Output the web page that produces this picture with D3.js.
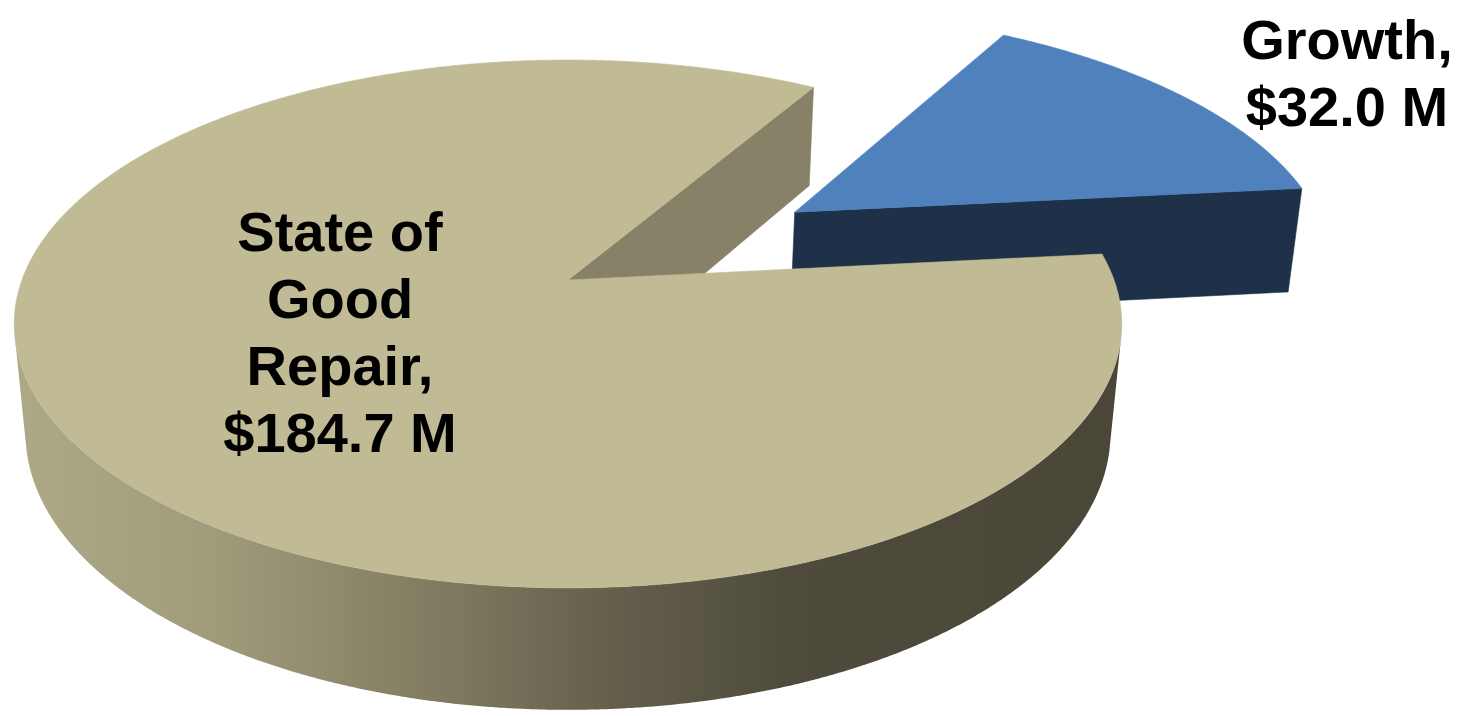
<!DOCTYPE html>
<html><head><meta charset="utf-8">
<script src="https://cdn.jsdelivr.net/npm/d3@7"></script>
<style>html,body{margin:0;padding:0;background:#fff;overflow:hidden}</style>
</head><body>
<svg id="chart" width="1473" height="716"></svg>
<script>
// ---- data ----
const categories = ["Growth", "State of Good Repair"];
const values = [32.0, 184.7];
const labelLines = [["Growth,", "$32.0 M"], ["State of", "Good", "Repair,", "$184.7 M"]];
const explodeFrac = [0.515, 0];

// ---- style / layout ----
const W = 1473, H = 716;
const topColors  = ["#4f81bd", "#c0bb94"];
const cutColors  = ["#1f3049", "#878167"];
const sideColors = ["#1f3049", "url(#sideGrad)"];
const labelPos = [[1347, 59], [340, 251]];
const lineStep = 67;
const firstAngleDeg = 30.92;

// ---- perspective projection (world: pie radius 1, top at Y=0) ----
const ox = 568, oy = 280, f = 2894, camDist = 5.3, depth = 0.229;
const elev = 28.03 * Math.PI / 180, se = Math.sin(elev), ce = Math.cos(elev);
const cam = [0, camDist * se, camDist * ce];
function project(X, Y, Z) {
  const yc = Y * ce - Z * se;
  const zc = camDist - (Y * se + Z * ce);
  return [ox + f * X / zc, oy - f * yc / zc];
}

const svg = d3.select("#chart");
svg.append("rect").attr("width", W).attr("height", H).attr("fill", "#fff");
const defs = svg.append("defs");
const grad = defs.append("linearGradient").attr("id", "sideGrad")
  .attr("gradientUnits", "userSpaceOnUse").attr("x1", 0).attr("x2", 1130).attr("y1", 0).attr("y2", 0);
[[0, "#aeaa87"], [0.18, "#a19d7c"], [0.36, "#858064"], [0.53, "#66614d"], [0.7, "#4f4b3c"], [1, "#4b4738"]]
  .forEach(([o, c]) => grad.append("stop").attr("offset", o).attr("stop-color", c));

const data = categories.map((c, i) => ({ cat: c, value: values[i], i }));
const rot = firstAngleDeg * Math.PI / 180;
const arcs = d3.pie().sort(null).value(d => d.value).startAngle(rot).endAngle(rot + 2 * Math.PI)(data);

const line = d3.line();
const step = Math.PI / 720;

function buildSlice(a) {
  const i = a.data.i;
  const mid = (a.startAngle + a.endAngle) / 2;
  const dx = explodeFrac[i] * Math.sin(mid), dz = -explodeFrac[i] * Math.cos(mid);
  const rim = (ang, Y) => project(dx + Math.sin(ang), Y, dz - Math.cos(ang));
  const angs = [];
  for (let t = a.startAngle; t < a.endAngle; t += step) angs.push(t);
  angs.push(a.endAngle);
  const faces = [];
  // outer side: visible where outward normal faces the camera
  const dot = t => Math.sin(t) * (cam[0] - dx - Math.sin(t)) + (-Math.cos(t)) * (cam[2] - dz + Math.cos(t));
  let run = [];
  const runs = [];
  angs.forEach(t => { if (dot(t) > 0) run.push(t); else { if (run.length > 1) runs.push(run); run = []; } });
  if (run.length > 1) runs.push(run);
  runs.forEach(r => {
    const pts = r.map(t => rim(t, 0)).concat(r.slice().reverse().map(t => rim(t, -depth)));
    faces.push({ d: line(pts) + "Z", fill: sideColors[i] });
  });
  // radial cut faces
  [[a.startAngle, -1], [a.endAngle, 1]].forEach(([t, s]) => {
    const n = [s * Math.cos(t), 0, s * Math.sin(t)];
    const v = [cam[0] - dx, cam[1], cam[2] - dz];
    if (n[0] * v[0] + n[2] * v[2] > 0) {
      const pts = [project(dx, 0, dz), rim(t, 0), rim(t, -depth), project(dx, -depth, dz)];
      faces.push({ d: line(pts) + "Z", fill: cutColors[i] });
    }
  });
  // top
  const topPts = [project(dx, 0, dz)].concat(angs.map(t => rim(t, 0)));
  faces.push({ d: line(topPts) + "Z", fill: topColors[i] });
  return { faces, depthKey: dz };
}

const slices = arcs.map(buildSlice).sort((p, q) => p.depthKey - q.depthKey);
const gSlices = svg.append("g");
slices.forEach(s => {
  const g = gSlices.append("g");
  s.faces.forEach(fc => g.append("path").attr("d", fc.d).attr("fill", fc.fill)
    .attr("stroke", fc.fill.startsWith("url") ? "none" : fc.fill).attr("stroke-width", 0.6).attr("stroke-linejoin", "round"));
});

// labels
const gLab = svg.append("g").attr("font-family", "'Liberation Sans', Arial, sans-serif")
  .attr("font-weight", "bold").attr("font-size", 56).attr("fill", "#000").attr("text-anchor", "middle");
data.forEach((d, i) => {
  const t = gLab.append("text").attr("x", labelPos[i][0]).attr("y", labelPos[i][1]);
  labelLines[i].forEach((ln, k) => t.append("tspan").attr("x", labelPos[i][0]).attr("y", labelPos[i][1] + k * lineStep).text(ln));
});
</script>
</body></html>
